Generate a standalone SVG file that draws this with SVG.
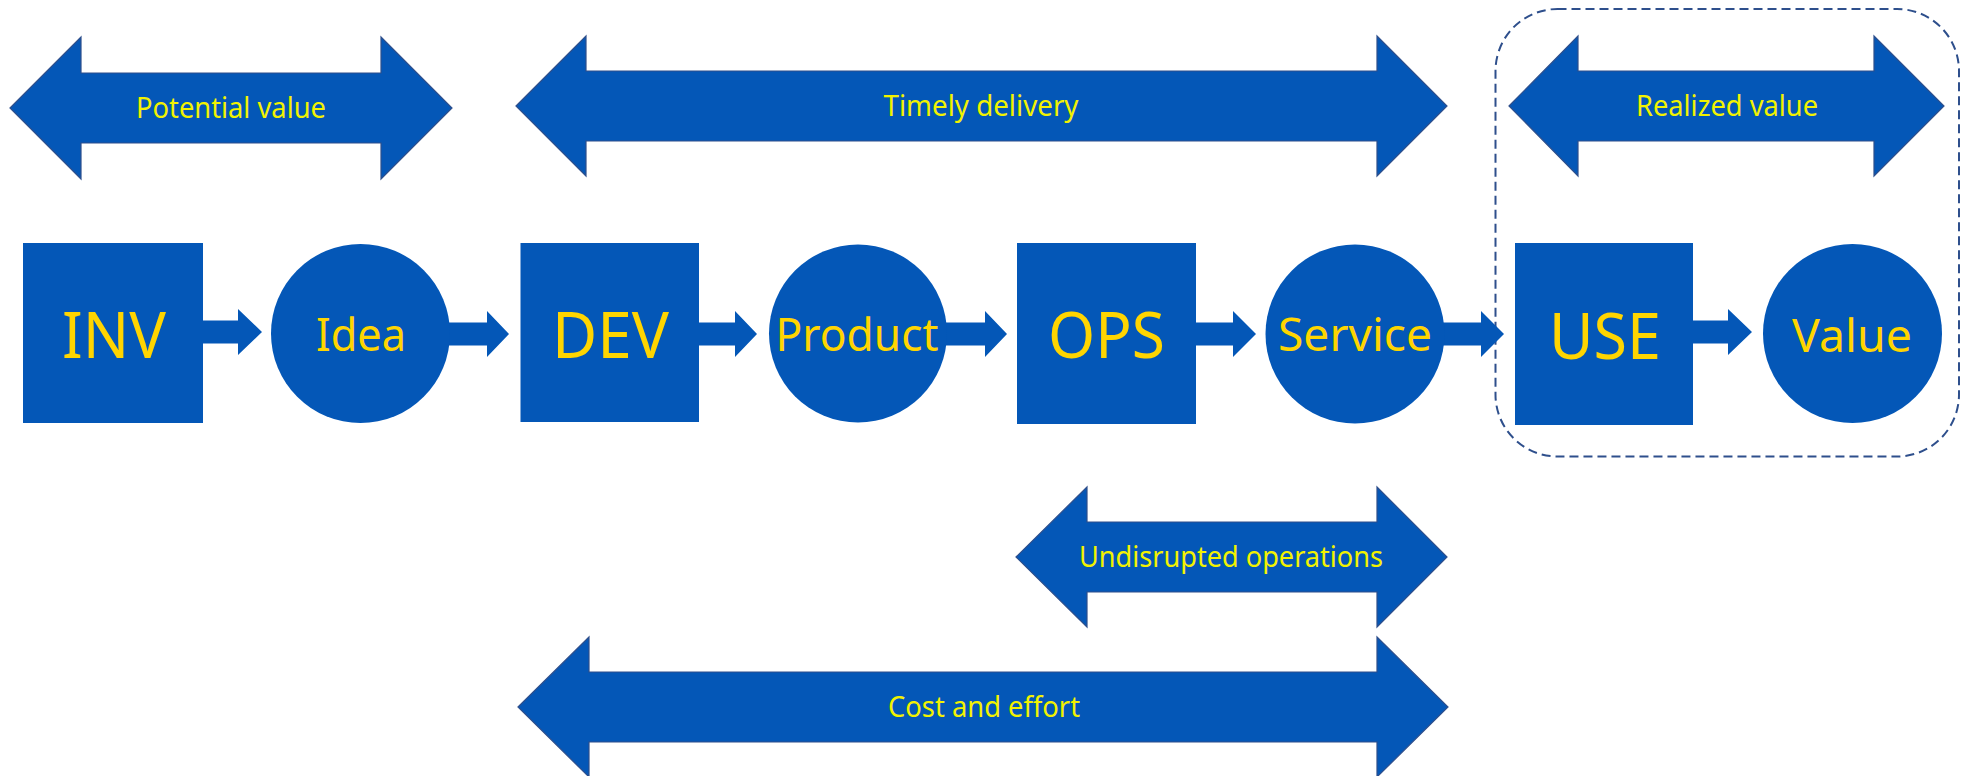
<svg xmlns="http://www.w3.org/2000/svg" width="1966" height="776" viewBox="0 0 1966 776">
  <style>
    .bg { fill: #ffffff; }
    .dbl { fill: #0457B7; stroke: #2E4F8C; stroke-width: 1.2; }
    .node { fill: #0457B7; }
    .conn { fill: #0457B7; }
    .lbl { font-family: "Noto Sans", "Open Sans", sans-serif; fill: #F2F200; font-size: 29px; text-anchor: middle; }
    .big { font-family: "Noto Sans", "Open Sans", sans-serif; fill: #FFD500; font-size: 64px; text-anchor: middle; }
    .mid { font-family: "Noto Sans", "Open Sans", sans-serif; fill: #FFD500; font-size: 46px; text-anchor: middle; }
    .frame { fill: none; stroke: #2E4F8C; stroke-width: 2; stroke-dasharray: 9 5; }
  </style>
  <rect class="bg" x="0" y="0" width="1966" height="776"/>

  <g id="realized-frame">
    <rect class="frame" x="1495.5" y="9" width="463.5" height="447.5" rx="62" ry="62"/>
  </g>

  <g id="potential-value">
    <polygon class="dbl" points="10,108 81,37 81,73 381,73 381,37 452,108 381,179 381,143 81,143 81,179"/>
    <text class="lbl" x="231" y="118" textLength="190" lengthAdjust="spacingAndGlyphs">Potential value</text>
  </g>
  <g id="timely-delivery">
    <polygon class="dbl" points="516,106 586,36 586,71 1377,71 1377,36 1447,106 1377,176 1377,141 586,141 586,176"/>
    <text class="lbl" x="981" y="116" textLength="195" lengthAdjust="spacingAndGlyphs">Timely delivery</text>
  </g>
  <g id="realized-value">
    <polygon class="dbl" points="1509,106 1578,36 1578,71 1874,71 1874,36 1944,106 1874,176 1874,141 1578,141 1578,176"/>
    <text class="lbl" x="1727" y="116" textLength="182" lengthAdjust="spacingAndGlyphs">Realized value</text>
  </g>
  <g id="undisrupted-operations">
    <polygon class="dbl" points="1016,557 1087,487 1087,522 1377,522 1377,487 1447,557 1377,627 1377,592 1087,592 1087,627"/>
    <text class="lbl" x="1231" y="567" textLength="304" lengthAdjust="spacingAndGlyphs">Undisrupted operations</text>
  </g>
  <g id="cost-and-effort">
    <polygon class="dbl" points="518,707 589,637 589,672 1377,672 1377,637 1448,707 1377,777 1377,742 589,742 589,777"/>
    <text class="lbl" x="984" y="717" textLength="192" lengthAdjust="spacingAndGlyphs">Cost and effort</text>
  </g>

  <g id="connectors">
    <polygon class="conn" points="203,320.5 238,320.5 238,309 262,332 238,355 238,343.5 203,343.5"/>
    <polygon class="conn" points="448,322.5 487,322.5 487,311 509,334 487,357 487,345.5 448,345.5"/>
    <polygon class="conn" points="697,322.5 735,322.5 735,311 757,334 735,357 735,345.5 697,345.5"/>
    <polygon class="conn" points="944,322.5 985,322.5 985,311 1007,334 985,357 985,345.5 944,345.5"/>
    <polygon class="conn" points="1194,322.5 1233,322.5 1233,311 1256,334 1233,357 1233,345.5 1194,345.5"/>
    <polygon class="conn" points="1442,322.5 1481,322.5 1481,311 1504,334 1481,357 1481,345.5 1442,345.5"/>
    <polygon class="conn" points="1691,320.5 1728,320.5 1728,309 1752,332 1728,355 1728,343.5 1691,343.5"/>
  </g>

  <g id="inv">
    <rect class="node" x="23" y="243" width="180" height="180"/>
    <text class="big" x="114" y="358" textLength="104" lengthAdjust="spacingAndGlyphs">INV</text>
  </g>
  <g id="idea">
    <circle class="node" cx="360.5" cy="333.5" r="89.5"/>
    <text class="mid" x="361" y="351" textLength="90" lengthAdjust="spacingAndGlyphs">Idea</text>
  </g>
  <g id="dev">
    <rect class="node" x="520.5" y="243" width="178.5" height="179"/>
    <text class="big" x="610.5" y="358" textLength="117" lengthAdjust="spacingAndGlyphs">DEV</text>
  </g>
  <g id="product">
    <circle class="node" cx="858" cy="333.5" r="89"/>
    <text class="mid" x="857" y="351" textLength="163" lengthAdjust="spacingAndGlyphs">Product</text>
  </g>
  <g id="ops">
    <rect class="node" x="1017" y="243" width="179" height="181"/>
    <text class="big" x="1106.5" y="358" textLength="117" lengthAdjust="spacingAndGlyphs">OPS</text>
  </g>
  <g id="service">
    <circle class="node" cx="1355" cy="334" r="89.5"/>
    <text class="mid" x="1355" y="351" textLength="154" lengthAdjust="spacingAndGlyphs">Service</text>
  </g>
  <g id="use">
    <rect class="node" x="1515" y="243" width="178" height="182"/>
    <text class="big" x="1605" y="359" textLength="112" lengthAdjust="spacingAndGlyphs">USE</text>
  </g>
  <g id="value">
    <circle class="node" cx="1852.5" cy="333.5" r="89.5"/>
    <text class="mid" x="1852" y="352" textLength="120" lengthAdjust="spacingAndGlyphs">Value</text>
  </g>
</svg>
